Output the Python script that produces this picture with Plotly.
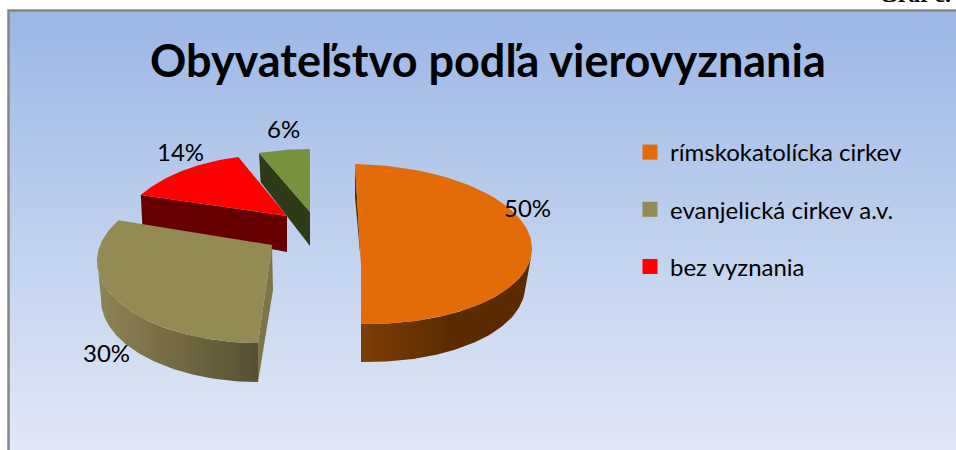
import numpy as np
import plotly.graph_objects as go

categories = ["rímskokatolícka cirkev", "evanjelická cirkev a.v.", "bez vyznania", "iné"]
values = [50, 30, 14, 6]
title_text = "Obyvateľstvo podľa vierovyznania"
top_colors = ["#E36C09", "#948A54", "#FF0000", "#76923C"]
in_legend = [True, True, True, False]

# Hand-fitted projection of each exploded slice (perspective view)
geometry = [
    dict(c=(358, 244), rx=174, ry=80, s=-3, d=3, t0=0, stretch=1.0, apex=(361, 263), depth=38, bx=0.96,
         wall=(95, 180), wall_fill=dict(type="horizontal", start=361, stop=450, colorscale=[[0, "#7F3E06"], [1, "#5A2B00"]]),
         cut_start=("#5C2C00", 33), cut_end=None),
    dict(c=(256, 262), rx=159, ry=81, s=-2, d=0, t0=180, stretch=1.12, apex=(272, 245), depth=39, bx=0.975,
         wall=(180, 272), wall_fill=dict(type="horizontal", start=100, stop=258, colorscale=[[0, "#8D8353"], [1, "#575032"]]),
         cut_start=("#7D7548", 39), cut_end=None),
    dict(c=(279, 238), rx=160, ry=83.5, s=-2, d=0, t0=301, stretch=0.893, apex=(287, 216), depth=36, bx=1,
         wall=None, wall_fill=None, cut_start=None, cut_end=("#660000", 30)),
    dict(c=(312, 226), rx=160, ry=77, s=-2, d=0, t0=341.4, stretch=0.861, apex=(310, 212), depth=34, bx=1,
         wall=None, wall_fill=None, cut_start=None, cut_end=("#2F3A16", 29)),
]
label_pos = [(527, 207), (106, 352), (180, 151), (283, 128)]


def ellipse(g, t_deg, dy=0.0, bx=1.0):
    t = np.radians(np.asarray(t_deg, dtype=float))
    x = g["c"][0] + g["rx"] * bx * np.sin(t) + g["s"] * np.cos(t)
    y = g["c"][1] - g["ry"] * np.cos(t) + g["d"] * np.sin(t) + dy
    return x, y


fig = go.Figure()
# chart-area background
fig.add_trace(go.Scatter(
    x=[9, 956, 956, 9, 9], y=[11, 11, 450, 450, 11], mode="lines", fill="toself",
    line=dict(width=0), showlegend=False, hoverinfo="skip",
    fillgradient=dict(type="vertical", start=11, stop=450,
                      colorscale=[[0, "#9BB7E5"], [0.5, "#BFD0EE"], [1, "#E1E8F6"]])))
fig.add_trace(go.Scatter(
    x=[8.5, 8.5, 956], y=[450, 10.5, 10.5], mode="lines",
    line=dict(color="#868686", width=2.5), showlegend=False, hoverinfo="skip"))


def poly(xs, ys, color=None, gradient=None):
    kw = dict(fillgradient=gradient) if gradient else dict(fillcolor=color)
    fig.add_trace(go.Scatter(x=list(xs) + [xs[0]], y=list(ys) + [ys[0]], mode="lines", fill="toself",
                             line=dict(width=0), showlegend=False, hoverinfo="skip", **kw))


total = sum(values)
for i in [3, 2, 1, 0]:
    g = geometry[i]
    span = values[i] / total * 360 * g["stretch"]
    ts = np.linspace(g["t0"], g["t0"] + span, 90)
    ax, ay = g["apex"]
    if g["cut_end"]:
        col, dy_outer = g["cut_end"]
        ex, ey = ellipse(g, ts[0])
        poly([ex, ax, ax, ex + 1.5], [ey, ay, ay + g["depth"], ey + dy_outer], col)
    if g["wall"]:
        wt = np.linspace(g["wall"][0], g["wall"][1], 80)
        x1, y1 = ellipse(g, wt)
        x2, y2 = ellipse(g, wt[::-1], dy=g["depth"], bx=g["bx"])
        poly(list(x1) + list(x2), list(y1) + list(y2), gradient=g["wall_fill"])
    if i == 0:
        col, dy_outer = g["cut_start"]
        ex, ey = ellipse(g, ts[0])
        poly([ex, ex, ax], [ey, ey + dy_outer, ay + 1], col)
    if i == 1:
        col, dy_outer = g["cut_start"]
        ex, ey = ellipse(g, ts[0])
        poly([ax, ax + 1, ex, ex], [ay, ay + 45, ey + dy_outer, ey], col)
    x, y = ellipse(g, ts)
    poly([ax] + list(x), [ay] + list(y), top_colors[i])

# legend entries
for i, name in enumerate(categories):
    if in_legend[i]:
        fig.add_trace(go.Scatter(x=[None], y=[None], mode="markers", name=name, legendgroup=name,
                                 marker=dict(symbol="square", size=15, color=top_colors[i])))

annotations = [
    dict(text=f"<b>{title_text}</b>", x=488, y=60, showarrow=False,
         font=dict(family="Lato", size=45, color="#000000")),
    dict(text="<b>Graf č.</b>", x=877, y=9, xanchor="left", yanchor="bottom", showarrow=False,
         font=dict(family="Liberation Serif", size=24, color="#000000")),
]
for v, (lx, ly) in zip(values, label_pos):
    annotations.append(dict(text=f"{v}%", x=lx, y=ly, showarrow=False,
                            font=dict(family="Lato", size=24, color="#000000")))
for a in annotations:
    a.update(xref="x", yref="y")

fig.update_layout(
    width=956, height=450, margin=dict(l=0, r=0, t=0, b=0),
    paper_bgcolor="#FFFFFF", plot_bgcolor="rgba(0,0,0,0)",
    xaxis=dict(range=[0, 956], visible=False, fixedrange=True),
    yaxis=dict(range=[450, 0], visible=False, fixedrange=True),
    annotations=annotations,
    showlegend=True,
    legend=dict(x=630 / 956, y=1 - 130 / 450, xanchor="left", yanchor="top", bgcolor="rgba(0,0,0,0)",
                font=dict(family="Lato", size=24, color="#000000"),
                tracegroupgap=23, itemsizing="trace"),
)
fig.write_html("out.html", config=dict(displayModeBar=False),
               post_script="document.body.style.margin='0';document.documentElement.style.overflow='hidden';")
